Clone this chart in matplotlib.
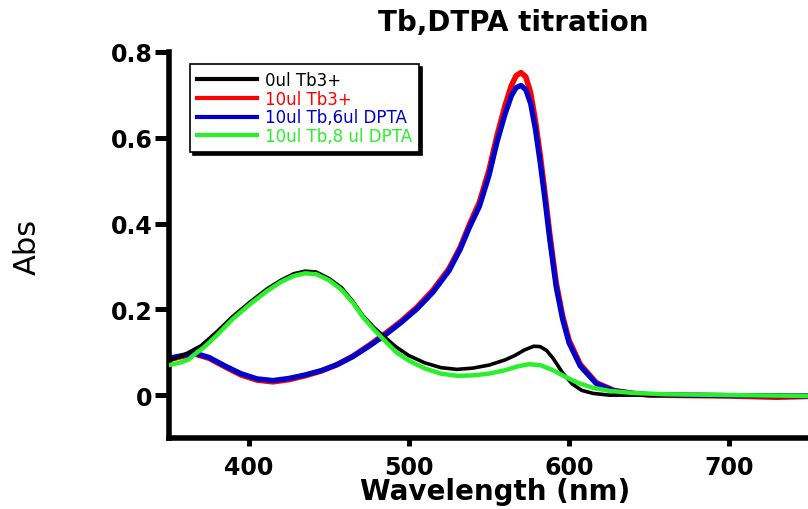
"""
Tb,DTPA titration - absorbance spectra re-drawn with matplotlib.
"""
import matplotlib
matplotlib.use('Agg')
import matplotlib.pyplot as plt

# wavelength (nm) / absorbance
wl_black = [350, 360, 370, 380, 390, 400, 411, 420, 428, 435, 442, 450, 458, 465, 471, 478,
            484, 492, 500, 510, 520, 530, 540, 550, 560, 566, 572, 578, 582, 586, 590, 596,
            602, 608, 615, 625, 650, 700, 750]
abs_black = [0.080, 0.095, 0.115, 0.148, 0.184, 0.215, 0.247, 0.268, 0.283, 0.289, 0.287, 0.272,
             0.250, 0.218, 0.186, 0.158, 0.138, 0.112, 0.092, 0.075, 0.064, 0.060, 0.063, 0.070,
             0.082, 0.092, 0.105, 0.114, 0.113, 0.104, 0.086, 0.052, 0.026, 0.011, 0.004, 0.000,
             0.000, -0.001, -0.002]

wl_red = [350, 358, 366, 375, 385, 395, 405, 415, 425, 435, 445, 455, 465, 475, 485, 495, 505,
          515, 525, 532, 538, 544, 550, 555, 560, 564, 567, 570, 573, 576, 579, 582, 585, 588,
          592, 596, 600, 607, 617, 628, 640, 650, 700, 730, 750]
abs_red = [0.083, 0.090, 0.096, 0.086, 0.066, 0.047, 0.035, 0.031, 0.036, 0.045, 0.056, 0.071,
           0.091, 0.116, 0.143, 0.172, 0.205, 0.245, 0.295, 0.345, 0.400, 0.450, 0.525, 0.605,
           0.675, 0.722, 0.745, 0.752, 0.742, 0.705, 0.640, 0.560, 0.470, 0.375, 0.262, 0.185,
           0.128, 0.072, 0.029, 0.011, 0.004, 0.000, -0.002, -0.005, -0.003]

wl_blue = [350, 358, 366, 375, 385, 395, 405, 415, 425, 435, 445, 455, 465, 475, 485, 495, 505,
           515, 525, 532, 538, 544, 550, 555, 560, 564, 567, 570, 573, 576, 579, 582, 585, 588,
           592, 596, 600, 607, 617, 628, 640, 650, 700, 750]
abs_blue = [0.086, 0.092, 0.098, 0.088, 0.068, 0.050, 0.038, 0.034, 0.039, 0.047, 0.057, 0.071,
            0.090, 0.114, 0.140, 0.169, 0.201, 0.240, 0.290, 0.340, 0.393, 0.440, 0.512, 0.590,
            0.655, 0.698, 0.717, 0.722, 0.712, 0.680, 0.620, 0.542, 0.455, 0.362, 0.252, 0.177,
            0.122, 0.068, 0.027, 0.010, 0.004, 0.001, -0.001, -0.002]

wl_green = [350, 356, 362, 366, 372, 380, 390, 400, 411, 420, 428, 435, 442, 450, 458, 465, 471,
            478, 484, 492, 500, 510, 520, 530, 540, 550, 560, 568, 575, 582, 590, 598, 606, 615,
            625, 640, 660, 700, 750]
abs_green = [0.070, 0.075, 0.082, 0.095, 0.112, 0.140, 0.178, 0.210, 0.242, 0.264, 0.278, 0.284,
             0.282, 0.268, 0.245, 0.215, 0.183, 0.153, 0.130, 0.100, 0.080, 0.062, 0.050, 0.045,
             0.046, 0.050, 0.058, 0.067, 0.072, 0.070, 0.058, 0.042, 0.028, 0.017, 0.010, 0.005,
             0.002, 0.000, -0.002]

labels = ['0ul Tb3+', '10ul Tb3+', '10ul Tb,6ul DPTA', '10ul Tb,8 ul DPTA']
colors = ['black', '#FF0000', '#0000CD', '#2AF02A']

x_ticks = [400, 500, 600, 700]
y_ticks = [0, 0.2, 0.4, 0.6, 0.8]
y_tick_labels = ['0', '0.2', '0.4', '0.6', '0.8']

fig = plt.figure(figsize=(8.08, 5.10), dpi=100)
ax = fig.add_axes([169 / 808, 71 / 510, 640 / 808, 386 / 510])

ax.plot(wl_black, abs_black, color=colors[0], linewidth=2.6, label=labels[0], zorder=3)
ax.plot(wl_red, abs_red, color=colors[1], linewidth=4.0, label=labels[1], zorder=2)
ax.plot(wl_blue, abs_blue, color=colors[2], linewidth=3.8, label=labels[2], zorder=2.5)
ax.plot(wl_green, abs_green, color=colors[3], linewidth=3.2, label=labels[3], zorder=4)

ax.set_xlim(350, 750)
ax.set_ylim(-0.1, 0.8)

# only the left and bottom axis lines, drawn heavy like the original
ax.spines['top'].set_visible(False)
ax.spines['right'].set_visible(False)
for side in ['left', 'bottom']:
    ax.spines[side].set_linewidth(4)

ax.set_xticks(x_ticks)
ax.set_yticks(y_ticks)
ax.set_yticklabels(y_tick_labels)
ax.tick_params(axis='y', direction='out', length=10, width=3.6, pad=2)
ax.tick_params(axis='x', direction='out', length=6, width=3.6, pad=6)
for lbl in ax.get_xticklabels() + ax.get_yticklabels():
    lbl.set_fontfamily('DejaVu Sans')
    lbl.set_fontweight('bold')
    lbl.set_fontsize(17)

ax.set_xlabel('Wavelength (nm)', fontsize=20, fontweight='bold', family='DejaVu Sans', va='center')
ax.xaxis.set_label_coords((495 - 169) / 640, (439 - 492) / 386)

fig.text(27 / 808, (510 - 247) / 510, 'Abs', rotation=90, ha='center', va='center',
         fontsize=22, family='DejaVu Sans')
fig.text(513 / 808, (510 - 23) / 510, 'Tb,DTPA titration', ha='center', va='center',
         fontsize=20, fontweight='bold', family='DejaVu Sans')

leg = ax.legend(loc='upper left', bbox_to_anchor=((190 - 169) / 640, (439 - 65) / 386),
                borderaxespad=0, frameon=True, fancybox=False,
                shadow={'color': 'black', 'alpha': 1},
                prop={'family': 'DejaVu Sans', 'size': 12},
                handlelength=3.6, handletextpad=0.5, labelspacing=0.05, borderpad=0.4)
leg.get_frame().set_edgecolor('black')
leg.get_frame().set_linewidth(1.2)
for line, text in zip(leg.get_lines(), leg.get_texts()):
    line.set_linewidth(3)
    text.set_color(line.get_color())

fig.savefig('out.png', dpi=100)
